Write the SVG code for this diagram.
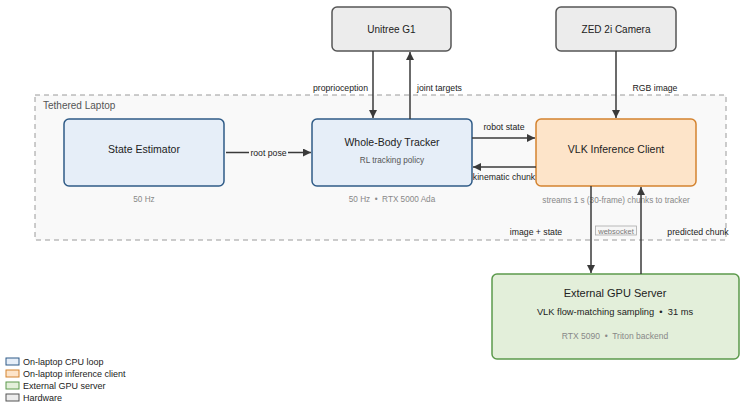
<svg xmlns="http://www.w3.org/2000/svg" width="747" height="409" viewBox="0 0 747 409">
<defs>
<marker id="ah" viewBox="0 0 10 10" refX="10" refY="5" markerWidth="8" markerHeight="8" markerUnits="userSpaceOnUse" orient="auto">
<path d="M0,0 L10,5 L0,10 z" fill="#3a3a3a"/>
</marker>
<style>
text{font-family:"Liberation Sans",Arial,sans-serif;white-space:pre;}
.t{font-size:11.5px;fill:#222;text-anchor:middle;}
.s{font-size:9.3px;fill:#222;text-anchor:middle;}
.g{font-size:8.2px;fill:#888;text-anchor:middle;}
.lbl{font-size:8.7px;fill:#222;}
.cpu{fill:#e6eef8;stroke:#2f5b87;stroke-width:1.5;}
.inf{fill:#fde4c9;stroke:#d4832f;stroke-width:1.5;}
.gpu{fill:#e3efda;stroke:#5c9a4c;stroke-width:1.5;}
.hw{fill:#ececec;stroke:#555;stroke-width:1.5;}
.c{stroke:#3a3a3a;stroke-width:1.5;fill:none;marker-end:url(#ah);}
.leg{font-size:9px;fill:#222;}
</style>
</defs>
<rect width="747" height="409" fill="#ffffff"/>
<g id="laptop">
<rect x="35" y="95" width="691" height="145" fill="#f9f9f9" stroke="#9a9a9a" stroke-width="1" stroke-dasharray="5,4"/>
<text x="43" y="109" style="font-size:10px;fill:#555">Tethered Laptop</text>
</g>
<g id="unitree">
<rect class="hw" x="332" y="7" width="119" height="44" rx="5"/>
<text class="t" x="391.5" y="33" style="font-size:10px">Unitree G1</text>
</g>
<g id="zed">
<rect class="hw" x="556" y="7" width="120" height="44" rx="5"/>
<text class="t" x="616" y="33" style="font-size:10px">ZED 2i Camera</text>
</g>
<g id="state-estimator">
<rect class="cpu" x="64" y="119" width="160" height="67" rx="5"/>
<text class="t" x="144" y="153" style="font-size:10.5px">State Estimator</text>
<text class="g" x="144" y="202">50 Hz</text>
</g>
<g id="tracker">
<rect class="cpu" x="312" y="119" width="160" height="67" rx="5"/>
<text class="t" x="392" y="146" style="font-size:10.5px">Whole-Body Tracker</text>
<text class="g" x="392" y="163" style="fill:#555">RL tracking policy</text>
<text class="g" x="392" y="202">50 Hz  •  RTX 5000 Ada</text>
</g>
<g id="vlk-client">
<rect class="inf" x="536" y="119" width="160" height="67" rx="5"/>
<text class="t" x="616" y="153" style="font-size:10.5px">VLK Inference Client</text>
<text class="g" x="616" y="203">streams 1 s (30-frame) chunks to tracker</text>
</g>
<g id="gpu-server">
<rect class="gpu" x="492" y="274" width="247" height="85" rx="5"/>
<text class="t" x="615" y="297" style="font-size:11px">External GPU Server</text>
<text class="s" x="615" y="315">VLK flow-matching sampling  •  31 ms</text>
<text class="g" x="615" y="339" style="font-size:8.5px">RTX 5090  •  Triton backend</text>
</g>
<g id="connectors">
<line class="c" x1="373" y1="51" x2="373" y2="118"/>
<line class="c" x1="410" y1="119" x2="410" y2="52"/>
<line class="c" x1="616" y1="51" x2="616" y2="118"/>
<line class="c" x1="226" y1="152.5" x2="311" y2="152.5"/>
<rect x="249" y="147" width="39" height="11" fill="#f9f9f9"/>
<line class="c" x1="472" y1="138" x2="535" y2="138"/>
<line class="c" x1="536" y1="167" x2="473" y2="167"/>
<line class="c" x1="591" y1="186" x2="591" y2="273"/>
<line class="c" x1="641" y1="274" x2="641" y2="187"/>
<text class="lbl" x="368" y="91" text-anchor="end">proprioception</text>
<text class="lbl" x="417" y="91">joint targets</text>
<text class="lbl" x="655" y="91" text-anchor="middle">RGB image</text>
<text class="lbl" x="268.5" y="155.5" text-anchor="middle">root pose</text>
<text class="lbl" x="504" y="130" text-anchor="middle">robot state</text>
<text class="lbl" x="504" y="180" text-anchor="middle">kinematic chunk</text>
<text class="lbl" x="536" y="235" text-anchor="middle">image + state</text>
<text class="lbl" x="698" y="235" text-anchor="middle">predicted chunk</text>
<rect x="595.5" y="226" width="41" height="9" fill="#f6f6f6" stroke="#aaa" stroke-width="0.8"/>
<text x="616" y="233.5" text-anchor="middle" style="font-size:7.5px;fill:#777">websocket</text>
</g>
<g id="legend">
<rect x="6" y="358" width="13" height="7" fill="#e6eef8" stroke="#2f5b87" stroke-width="1"/>
<text class="leg" x="23" y="365">On-laptop CPU loop</text>
<rect x="6" y="370" width="13" height="7" fill="#fde4c9" stroke="#d4832f" stroke-width="1"/>
<text class="leg" x="23" y="377">On-laptop inference client</text>
<rect x="6" y="382" width="13" height="7" fill="#e3efda" stroke="#5c9a4c" stroke-width="1"/>
<text class="leg" x="23" y="389">External GPU server</text>
<rect x="6" y="394" width="13" height="7" fill="#ececec" stroke="#555" stroke-width="1"/>
<text class="leg" x="23" y="401">Hardware</text>
</g>
</svg>
